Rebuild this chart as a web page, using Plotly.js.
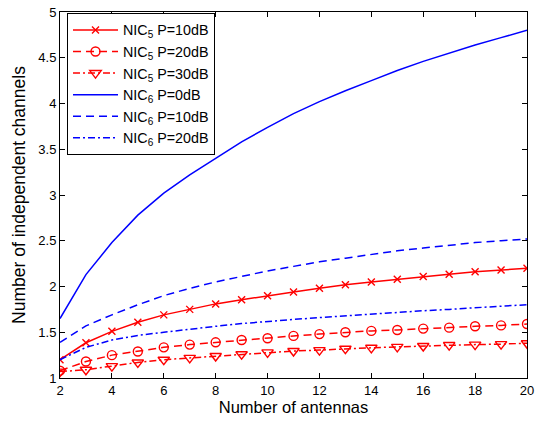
<!DOCTYPE html>
<html>
<head>
<meta charset="utf-8">
<script src="https://cdn.plot.ly/plotly-3.0.1.min.js"></script>
<style>
  html, body { margin: 0; padding: 0; background: #fff; }
  #chart { width: 536px; height: 421px; }
</style>
</head>
<body>
<div id="chart"></div>
<script>
const antennas = [2, 3, 4, 5, 6, 7, 8, 9, 10, 11, 12, 13, 14, 15, 16, 17, 18, 19, 20];

const nic5_10dB = [1.20, 1.385, 1.51, 1.61, 1.69, 1.75, 1.81, 1.855, 1.90, 1.94, 1.98, 2.02, 2.05, 2.08, 2.11, 2.135, 2.16, 2.18, 2.20];
const nic5_20dB = [1.08, 1.18, 1.25, 1.29, 1.335, 1.365, 1.39, 1.415, 1.435, 1.46, 1.48, 1.50, 1.515, 1.525, 1.54, 1.55, 1.565, 1.575, 1.59];
const nic5_30dB = [1.07, 1.09, 1.13, 1.17, 1.20, 1.22, 1.24, 1.26, 1.28, 1.295, 1.305, 1.32, 1.33, 1.34, 1.35, 1.36, 1.365, 1.37, 1.38];
const nic6_0dB  = [1.65, 2.13, 2.48, 2.78, 3.02, 3.22, 3.40, 3.58, 3.74, 3.89, 4.02, 4.14, 4.25, 4.36, 4.46, 4.55, 4.64, 4.72, 4.80];
const nic6_10dB = [1.39, 1.57, 1.69, 1.80, 1.90, 1.98, 2.05, 2.11, 2.17, 2.22, 2.27, 2.31, 2.35, 2.39, 2.42, 2.45, 2.48, 2.50, 2.52];
const nic6_20dB = [1.20, 1.335, 1.415, 1.465, 1.50, 1.535, 1.565, 1.595, 1.62, 1.64, 1.66, 1.68, 1.70, 1.72, 1.735, 1.75, 1.77, 1.785, 1.80];

const seriesNames = [
  'NIC<sub>5</sub> P=10dB',
  'NIC<sub>5</sub> P=20dB',
  'NIC<sub>5</sub> P=30dB',
  'NIC<sub>6</sub> P=0dB',
  'NIC<sub>6</sub> P=10dB',
  'NIC<sub>6</sub> P=20dB'
];
const xTickVals = [2, 4, 6, 8, 10, 12, 14, 16, 18, 20];
const yTickVals = [1, 1.5, 2, 2.5, 3, 3.5, 4, 4.5, 5];

const RED = 'rgb(255,0,0)';
const BLUE = 'rgb(0,0,255)';
const DASH = '8px,5px';
const DASHDOT = '7px,3px,2px,3px';

function tr(y, name, color, dash, symbol, size, grp) {
  const t = {
    x: antennas, y: y, name: name, type: 'scatter',
    mode: symbol ? 'lines+markers' : 'lines',
    legendgroup: grp,
    line: { color: color, width: 1.5, dash: dash }
  };
  if (symbol) {
    t.marker = { symbol: symbol, size: size, color: color, line: { color: color, width: 1.4 } };
  }
  return t;
}

const data = [
  tr(nic5_10dB, seriesNames[0], RED, 'solid', 'x-thin-open', 7, 'a'),
  tr(nic5_20dB, seriesNames[1], RED, DASH, 'circle-open', 9, 'b'),
  tr(nic5_30dB, seriesNames[2], RED, DASHDOT, 'triangle-down-open', 10, 'c'),
  tr(nic6_0dB, seriesNames[3], BLUE, 'solid', null, 0, 'd'),
  tr(nic6_10dB, seriesNames[4], BLUE, DASH, null, 0, 'e'),
  tr(nic6_20dB, seriesNames[5], BLUE, DASHDOT, null, 0, 'f')
];

const FONT = 'Liberation Sans, Arial, Helvetica, sans-serif';

const layout = {
  width: 536, height: 421,
  margin: { l: 60, r: 9, t: 12, b: 43 },
  paper_bgcolor: '#fff', plot_bgcolor: '#fff',
  font: { family: FONT, size: 13, color: '#000' },
  showlegend: true,
  legend: {
    x: 0.015, y: 0.997, xanchor: 'left', yanchor: 'top',
    bgcolor: '#fff', bordercolor: '#000', borderwidth: 1,
    font: { family: FONT, size: 14.3, color: '#000' },
    tracegroupgap: 7,
    itemwidth: 45,
    traceorder: 'normal'
  },
  xaxis: {
    range: [2, 20], tickvals: xTickVals, ticktext: xTickVals.map(String),
    ticks: 'inside', ticklen: 5, tickcolor: '#000',
    showline: true, linecolor: '#000', linewidth: 1, mirror: 'ticks',
    showgrid: false, zeroline: false,
    tickfont: { size: 13 },
    title: { text: 'Number of antennas', font: { size: 16.5 }, standoff: 4 }
  },
  yaxis: {
    range: [1, 5], tickvals: yTickVals, ticktext: yTickVals.map(String),
    ticks: 'inside', ticklen: 5, tickcolor: '#000',
    showline: true, linecolor: '#000', linewidth: 1, mirror: 'ticks',
    showgrid: false, zeroline: false,
    tickfont: { size: 13 },
    title: { text: 'Number of independent channels', font: { size: 17.5 }, standoff: 8 }
  }
};

Plotly.newPlot('chart', data, layout, { displayModeBar: false, staticPlot: true });
</script>
</body>
</html>
